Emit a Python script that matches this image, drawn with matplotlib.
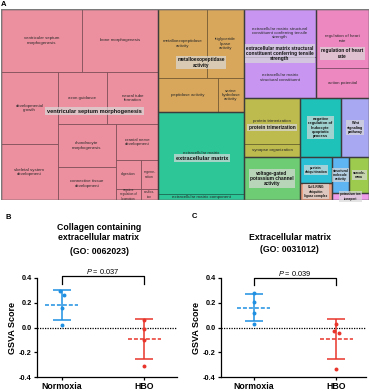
import matplotlib
matplotlib.use("Agg")
import matplotlib.pyplot as plt
import matplotlib.colors as mcolors
from matplotlib.patches import Rectangle
import numpy as np

plt.rcParams["font.family"] = ["Liberation Sans", "DejaVu Sans"]
plt.rcParams["axes.unicode_minus"] = False
plt.rcParams["mathtext.fontset"] = "custom"
plt.rcParams["mathtext.it"] = "Liberation Sans:italic"
plt.rcParams["mathtext.rm"] = "Liberation Sans"

# ---- panel A: reduced GO terms (parent term, child terms, relative size) ----
parents = [
    "ventricular septum morphogenesis",
    "metalloexopeptidase\nactivity",
    "extracellular matrix",
    "extracellular matrix structural\nconstituent conferring tensile\nstrength",
    "regulation of heart\nrate",
    "protein trimerization",
    "voltage-gated\npotassium channel\nactivity",
    "negative\nregulation of\nleukocyte\napoptotic\nprocess",
    "Wnt\nsignaling\npathway",
    "protein\nubiquitination",
    "Cul3-RING\nubiquitin\nligase complex",
    "structural\nmolecule\nactivity",
    "sarcole-\nmma",
    "potassium ion\ntransport",
]
terms = [
    "ventricular septum\nmorphogenesis", "bone morphogenesis", "developmental\ngrowth",
    "skeletal system\ndevelopment", "axon guidance", "neural tube\nformation",
    "chondrocyte\nmorphogenesis", "connective tissue\ndevelopment", "cranial nerve\ndevelopment",
    "digestion", "negative\nregulation of\nlocomotion", "regene-\nration", "ossifica-\ntion",
    "metalloexopeptidase\nactivity", "triglyceride\nlipase\nactivity", "peptidase activity",
    "serine\nhydrolase\nactivity",
    "extracellular matrix", "extracellular matrix component",
    "extracellular matrix structural\nconstituent conferring tensile\nstrength",
    "extracellular matrix\nstructural constituent",
    "regulation of heart\nrate", "action potential",
    "protein trimerization", "synapse organization",
    "voltage-gated\npotassium channel\nactivity",
    "negative\nregulation of\nleukocyte\napoptotic\nprocess",
    "Wnt\nsignaling\npathway",
    "protein\nubiquitination",
    "Cul3-RING\nubiquitin\nligase complex",
    "structural\nmolecule\nactivity",
    "sarcole-\nmma",
    "potassium ion\ntransport",
]
term_parent = [0, 0, 0, 0, 0, 0, 0, 0, 0, 0, 0, 0, 0,
               1, 1, 1, 1,
               2, 2,
               3, 3,
               4, 4,
               5, 5,
               6, 7, 8, 9, 10, 11, 12, 13]
term_size = [5103, 4788, 4104, 3192, 2548, 2652, 2494, 1914, 1512, 725, 275, 493, 187,
             3381, 2553, 2040, 884,
             7052, 516,
             3456, 2952,
             3127, 1590,
             2576, 728,
             2408, 2419, 1652, 832, 544, 612, 720, 259]

# ---- panels B, C: GSVA scores ----
groups = ["Normoxia", "HBO"]
collagen_normoxia = [0.294, 0.259, 0.154, 0.019]
collagen_hbo = [0.059, -0.016, -0.097, -0.313]
ecm_normoxia = [0.280, 0.210, 0.118, 0.032]
ecm_hbo = [0.027, -0.030, -0.041, -0.332]
p_collagen = "0.037"
p_ecm = "0.039"

# styles
group_colors = ["#EC909F", "#D8A75B", "#2CC697", "#C896F0", "#EE88C0", "#BDBA4E",
                "#6DCC74", "#1EC2B8", "#A8A8F2", "#2BBFD6", "#EB9D7F", "#5FB4F2",
                "#9CCB4E", "#EE9BEA"]
parent_fs = {0: 4.1, 2: 4.1, 7: 2.9, 8: 2.7, 9: 2.4, 10: 2.3, 11: 2.4, 12: 2.4, 13: 2.2}
term_fs = {9: 2.6, 10: 2.2, 11: 2.5, 12: 2.2}
parent_nudge = {0: (15, 6.5), 2: (1, 2), 1: (0, 2)}
BLUE = "#1E8FE1"
RED = "#E8352B"


def pivot_layout(sizes, x, y, w, h):
    """Ordered pivot treemap layout (first item is the pivot); y grows downward."""
    n = len(sizes)
    if n == 0:
        return []
    if n == 1:
        return [(x, y, w, h)]
    total = float(sum(sizes))
    p, rest = sizes[0], sizes[1:]
    wide = w >= h
    best = None
    for k in range(len(rest) + 1):
        a = p + sum(rest[:k])
        if wide:
            cw, ph = w * a / total, h * p / a
            r = max(cw / ph, ph / cw)
        else:
            rh, pw = h * a / total, w * p / a
            r = max(rh / pw, pw / rh)
        if best is None or r < best[0]:
            best = (r, k)
    k = best[1]
    a = p + sum(rest[:k])
    l2, l3 = rest[:k], rest[k:]
    if wide:
        cw, ph = w * a / total, h * p / a
        out = [(x, y, cw, ph)]
        out += pivot_layout(l2, x, y + ph, cw, h - ph)
        out += pivot_layout(l3, x + cw, y, w - cw, h)
    else:
        rh, pw = h * a / total, w * p / a
        out = [(x, y, pw, rh)]
        out += pivot_layout(l2, x + pw, y, w - pw, rh)
        out += pivot_layout(l3, x, y + rh, w, h - rh)
    return out


FW, FH = 370, 391
fig = plt.figure(figsize=(FW / 100, FH / 100), dpi=100)

# ---- A: treemap ----
W, H = 368, 191
axA = fig.add_axes([1 / FW, 1 - 200 / FH, W / FW, H / FH])
axA.set_xlim(0, W)
axA.set_ylim(H, 0)
axA.axis("off")

parent_size = [sum(s for s, q in zip(term_size, term_parent) if q == i) for i in range(len(parents))]
prects = pivot_layout(parent_size, 0, 0, W, H)
for i, (x, y, w, h) in enumerate(prects):
    idx = [j for j, q in enumerate(term_parent) if q == i]
    crects = pivot_layout([term_size[j] for j in idx], x, y, w, h)
    col = group_colors[i]
    dark = tuple(np.array(mcolors.to_rgb(col)) * 0.5)
    for j, (cx, cy, cw, ch) in zip(idx, crects):
        axA.add_patch(Rectangle((cx, cy), cw, ch, fc=col, ec=dark, lw=0.5))
        if len(idx) > 1:
            axA.text(cx + cw / 2, cy + ch / 2, terms[j], fontsize=term_fs.get(j, 3.2),
                     ha="center", va="center", color="#2a2a2a", linespacing=1.1)
for i, (x, y, w, h) in enumerate(prects):
    axA.add_patch(Rectangle((x, y), w, h, fill=False, ec="#3c3c3c", lw=0.9))
for i, (x, y, w, h) in enumerate(prects):
    dx, dy = parent_nudge.get(i, (0, 0))
    axA.text(x + w / 2 + dx, y + h / 2 + dy, parents[i], fontsize=parent_fs.get(i, 3.4),
             fontweight="bold", ha="center", va="center", color="#111111", linespacing=1.1,
             bbox=dict(boxstyle="square,pad=0.3", fc="#d9d9d9", ec="none", alpha=0.7))
axA.add_patch(Rectangle((0, 0), W, H, fill=False, ec="#7a7a7a", lw=1.0))


# ---- B, C: dot plots ----
def dot_panel(ax, values, jitters, pval, xlim, bracket):
    for i, (vals, jit, col) in enumerate(zip(values, jitters, [BLUE, RED])):
        vals = np.asarray(vals)
        m, sd = vals.mean(), vals.std(ddof=1)
        ax.errorbar(i, m, yerr=sd, fmt="none", ecolor=col, elinewidth=1.1,
                    capsize=6.4, capthick=1.1, zorder=2)
        ax.hlines(m, i - 0.2, i + 0.2, colors=col, linestyles=(0, (2.6, 1.3)), lw=1.1, zorder=2)
        ax.scatter(i + np.asarray(jit), vals, s=8, color=col, zorder=3, linewidths=0)
    ax.axhline(0, color="black", ls=(0, (1, 1)), lw=0.9, zorder=1)
    lo, hi = bracket
    ax.plot([0, 0, 1, 1], [lo, hi, hi, lo], color="black", lw=0.9, clip_on=False)
    ax.text(0.5, hi + 0.04, f"$P$ = {pval}", ha="center", va="center", fontsize=5.3)
    ax.set_xlim(*xlim)
    ax.set_ylim(-0.4, 0.4)
    ax.set_yticks([-0.4, -0.2, 0, 0.2, 0.4])
    ax.set_yticklabels(["-0.4", "-0.2", "0.0", "0.2", "0.4"], fontweight="bold")
    ax.set_xticks([0, 1])
    ax.set_xticklabels(groups, fontweight="bold", fontsize=6.3)
    ax.tick_params(axis="y", length=2.5, width=0.9, pad=1.2, labelsize=5.3)
    ax.tick_params(axis="x", length=2.5, width=0.9, pad=1.0)
    for s in ("top", "right"):
        ax.spines[s].set_visible(False)
    for s in ("left", "bottom"):
        ax.spines[s].set_linewidth(0.9)
    ax.set_ylabel("GSVA Score", fontweight="bold", fontsize=6.5, labelpad=1.5)


axB = fig.add_axes([37 / FW, 1 - 377 / FH, 140 / FW, 99 / FH])
dot_panel(axB, [collagen_normoxia, collagen_hbo], [[-0.02, 0.03, 0, 0], [0, 0, 0, 0]],
          p_collagen, (-0.3, 1.4), (0.355, 0.415))
axC = fig.add_axes([221 / FW, 1 - 377 / FH, 145 / FW, 99 / FH])
dot_panel(axC, [ecm_normoxia, ecm_hbo], [[0, 0, 0, 0], [0, -0.03, 0.03, 0]],
          p_ecm, (-0.4, 1.36), (0.343, 0.397))

# titles and panel letters
tkw = dict(ha="center", va="center", fontsize=6.3, fontweight="bold")
fig.text(99 / FW, 1 - 227 / FH, "Collagen containing", **tkw)
fig.text(99 / FW, 1 - 237 / FH, "extracellular matrix", **tkw)
fig.text(99 / FW, 1 - 252 / FH, "(GO: 0062023)", **tkw)
fig.text(290 / FW, 1 - 237 / FH, "Extracellular matrix", **tkw)
fig.text(289 / FW, 1 - 249 / FH, "(GO: 0031012)", **tkw)
lkw = dict(ha="center", va="center", fontsize=5.5, fontweight="bold")
fig.text(4 / FW, 1 - 4.5 / FH, "A", **lkw)
fig.text(8 / FW, 1 - 217.7 / FH, "B", **lkw)
fig.text(194.3 / FW, 1 - 216.7 / FH, "C", **lkw)

fig.savefig("out.png", dpi=100)
